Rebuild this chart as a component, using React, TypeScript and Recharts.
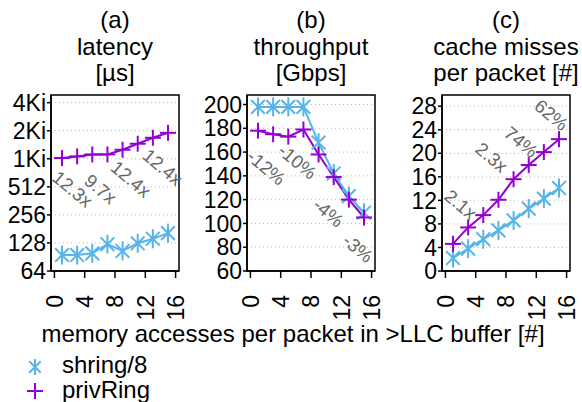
import React from "react";
import {
  LineChart,
  Line,
  XAxis,
  YAxis,
  CartesianGrid,
  ReferenceDot,
  ReferenceArea,
} from "recharts";

// memory accesses per packet (x) and axis ticks
const accesses = [1, 3, 5, 7, 9, 11, 13, 15];
const xTicks = [0, 4, 8, 12, 16];

// (a) latency [us], log2 axis
const latencyShring = [95, 95, 99, 124, 105, 127, 142, 163];
const latencyPrivRing = [1043, 1086, 1140, 1140, 1280, 1485, 1720, 1945];
const latencyTicks = [64, 128, 256, 512, 1024, 2048, 4096];
const latencyNotes = ["12.3x", "9.7x", "12.4x", "12.4x"];
const latencyNoteX = [2.4, 6.1, 10.1, 14.3];
const latencyNoteY = [485, 485, 620, 832];

// (b) throughput [Gbps]
const throughputShring = [198, 198, 198, 198, 168, 142, 123, 109];
const throughputPrivRing = [178, 175, 173, 179, 158, 139, 120, 105];
const throughputTicks = [60, 80, 100, 120, 140, 160, 180, 200];
const throughputNotes = ["-12%", "-10%", "-4%", "-3%"];
const throughputNoteX = [2.1, 6.2, 10.3, 14.2];
const throughputNoteY = [147, 152, 109, 79];

// (c) cache misses per packet [#]
const missesShring = [2.2, 3.8, 5.4, 6.9, 8.6, 10.6, 12.3, 14.1];
const missesPrivRing = [4.6, 7.4, 9.5, 12.1, 15.6, 18.0, 20.2, 22.4];
const missesTicks = [0, 4, 8, 12, 16, 20, 24, 28];
const missesNotes = ["2.1x", "2.3x", "74%", "62%"];
const missesNoteX = [2.0, 6.1, 10.0, 14.0];
const missesNoteY = [11.3, 19.3, 21.9, 26.5];

const FONT = "'Liberation Sans', Arial, Helvetica, sans-serif";
const SHRING = "#56B4E9";
const PRIV = "#9400D3";
const PLOT_TOP = 95;
const PLOT_BOTTOM = 271;
const PLOT_W = 128;
const CHART_H = 330;
const X_DOMAIN = [-0.45, 16.45];

const Star = ({ cx, cy, size = 9.5, color = SHRING }: any) => {
  const d = size * 0.72;
  return (
    <g stroke={color} strokeWidth={2} fill="none">
      <line x1={cx} y1={cy - size} x2={cx} y2={cy + size} />
      <line x1={cx - d} y1={cy - d} x2={cx + d} y2={cy + d} />
      <line x1={cx - d} y1={cy + d} x2={cx + d} y2={cy - d} />
    </g>
  );
};

const Plus = ({ cx, cy, size = 8, color = PRIV }: any) => (
  <g stroke={color} strokeWidth={2} fill="none">
    <line x1={cx - size} y1={cy} x2={cx + size} y2={cy} />
    <line x1={cx} y1={cy - size} x2={cx} y2={cy + size} />
  </g>
);

const XTick = ({ x, y, payload }: any) => (
  <text
    x={x}
    y={y}
    dy="0.36em"
    textAnchor="end"
    transform={`rotate(-90 ${x} ${y})`}
    fontSize={23}
    fontFamily={FONT}
    fill="#000"
  >
    {payload.value}
  </text>
);

const noteShape = (text: string) => (props: any) => (
  <text
    x={props.cx}
    y={props.cy}
    dy="0.35em"
    textAnchor="middle"
    transform={`rotate(40 ${props.cx} ${props.cy})`}
    fontSize={18.5}
    fontFamily={FONT}
    fill="#666"
  >
    {text}
  </text>
);

interface PanelProps {
  left: number;
  plotLeft: number;
  title: string[];
  shring: number[];
  priv: number[];
  ticks: number[];
  yDomain: number[];
  log?: boolean;
  format?: (v: number) => string;
  notes: string[];
  noteX: number[];
  noteY: number[];
}

const Panel = ({
  left,
  plotLeft,
  title,
  shring,
  priv,
  ticks,
  yDomain,
  log,
  format,
  notes,
  noteX,
  noteY,
}: PanelProps) => {
  const yWidth = plotLeft - left;
  const data = accesses.map((x, i) => ({ x, shring: shring[i], priv: priv[i] }));
  return (
    <>
      <div
        style={{
          position: "absolute",
          left: plotLeft + PLOT_W / 2 - 100,
          top: 7,
          width: 200,
          textAlign: "center",
          fontFamily: FONT,
          fontSize: 24,
          lineHeight: "26.5px",
        }}
      >
        {title.map((t) => (
          <div key={t}>{t}</div>
        ))}
      </div>
      <div style={{ position: "absolute", left, top: 0 }}>
        <LineChart
          width={yWidth + PLOT_W + 16}
          height={CHART_H}
          data={data}
          margin={{ top: PLOT_TOP, right: 16, bottom: 0, left: 0 }}
        >
          <CartesianGrid
            vertical={false}
            stroke="#bbb"
            strokeDasharray="1 3"
          />
          <XAxis
            dataKey="x"
            type="number"
            domain={X_DOMAIN}
            ticks={xTicks}
            interval={0}
            allowDataOverflow
            height={CHART_H - PLOT_BOTTOM}
            tickSize={7}
            tickMargin={17}
            tick={<XTick />}
            axisLine={{ stroke: "#000", strokeWidth: 1.5 }}
            tickLine={{ stroke: "#000", strokeWidth: 1.5 }}
          />
          <YAxis
            type="number"
            scale={log ? "log" : "linear"}
            domain={yDomain}
            ticks={ticks}
            interval={0}
            allowDataOverflow
            width={yWidth}
            tickSize={4}
            tickMargin={1}
            tickFormatter={format}
            tick={{ fontSize: 23, fontFamily: FONT, fill: "#000" }}
            axisLine={{ stroke: "#000", strokeWidth: 1.5 }}
            tickLine={{ stroke: "#000", strokeWidth: 1.5 }}
          />
          <ReferenceArea
            x1={X_DOMAIN[0]}
            x2={X_DOMAIN[1]}
            y1={yDomain[0]}
            y2={yDomain[1]}
            fill="none"
            stroke="#000"
            strokeWidth={1.5}
            ifOverflow="visible"
          />
          <Line
            dataKey="shring"
            stroke={SHRING}
            strokeWidth={2}
            isAnimationActive={false}
            dot={(p: any) => <Star key={`s${p.index}`} cx={p.cx} cy={p.cy} />}
          />
          <Line
            dataKey="priv"
            stroke={PRIV}
            strokeWidth={2}
            isAnimationActive={false}
            dot={(p: any) => <Plus key={`p${p.index}`} cx={p.cx} cy={p.cy} />}
          />
          {notes.map((n, i) => (
            <ReferenceDot
              key={n + i}
              x={noteX[i]}
              y={noteY[i]}
              r={0}
              ifOverflow="visible"
              shape={noteShape(n)}
            />
          ))}
        </LineChart>
      </div>
    </>
  );
};

const fmtLatency = (v: number) => (v >= 1024 ? `${v / 1024}Ki` : `${v}`);

export default function App() {
  return (
    <div
      style={{
        position: "absolute",
        left: 0,
        top: 0,
        width: 582,
        height: 402,
        overflow: "hidden",
        background: "#fff",
        fontFamily: FONT,
      }}
    >
      <Panel
        left={0}
        plotLeft={51}
        title={["(a)", "latency", "[µs]"]}
        shring={latencyShring}
        priv={latencyPrivRing}
        ticks={latencyTicks}
        yDomain={[64, 4950]}
        log
        format={fmtLatency}
        notes={latencyNotes}
        noteX={latencyNoteX}
        noteY={latencyNoteY}
      />
      <Panel
        left={192}
        plotLeft={247}
        title={["(b)", "throughput", "[Gbps]"]}
        shring={throughputShring}
        priv={throughputPrivRing}
        ticks={throughputTicks}
        yDomain={[60, 208]}
        notes={throughputNotes}
        noteX={throughputNoteX}
        noteY={throughputNoteY}
      />
      <Panel
        left={392}
        plotLeft={442}
        title={["(c)", "cache misses", "per packet [#]"]}
        shring={missesShring}
        priv={missesPrivRing}
        ticks={missesTicks}
        yDomain={[0, 29.9]}
        notes={missesNotes}
        noteX={missesNoteX}
        noteY={missesNoteY}
      />
      <div
        style={{
          position: "absolute",
          left: 0,
          width: 582,
          top: 322,
          textAlign: "center",
          fontSize: 24,
          lineHeight: "24px",
          paddingLeft: 2,
        }}
      >
        memory accesses per packet in &gt;LLC buffer [#]
      </div>
      <svg
        style={{ position: "absolute", left: 0, top: 352 }}
        width={60}
        height={50}
      >
        <Star cx={35} cy={15} size={8} />
        <Plus cx={35} cy={39} size={8} />
      </svg>
      <div
        style={{
          position: "absolute",
          left: 62,
          top: 352,
          fontSize: 24,
          lineHeight: "25px",
        }}
      >
        <div>shring/8</div>
        <div>privRing</div>
      </div>
    </div>
  );
}
